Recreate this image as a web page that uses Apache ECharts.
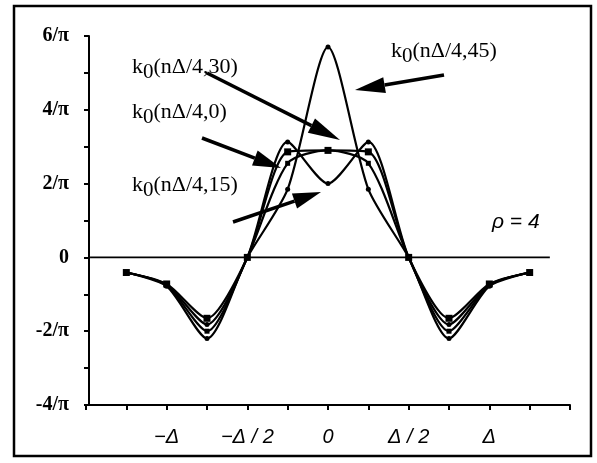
<!DOCTYPE html>
<html><head><meta charset="utf-8">
<script src="https://cdn.jsdelivr.net/npm/echarts@6/dist/echarts.min.js"></script>
<style>html,body{margin:0;padding:0;background:#fff}#c{width:597px;height:463px}</style>
</head><body><div id="c"></div>
<script>
const nValues = [-5,-4,-3,-2,-1,0,1,2,3,4,5];
const k0_theta0  = [-0.41,-0.72,-1.65,0,2.86,2.9,2.86,0,-1.65,-0.72,-0.41];
const k0_theta15 = [-0.41,-0.74,-1.82,0,3.13,2.0,3.13,0,-1.82,-0.74,-0.41];
const k0_theta30 = [-0.41,-0.76,-2.0,0,2.55,2.9,2.55,0,-2.0,-0.76,-0.41];
const k0_theta45 = [-0.41,-0.78,-2.2,0,1.85,5.7,1.85,0,-2.2,-0.78,-0.41];
const xTickLabels = {'-4':'\u2212\u0394','-2':'\u2212\u0394 / 2','0':'0','2':'\u0394 / 2','4':'\u0394'};
const yTickLabels = {'-4':'-4/\u03c0','-2':'-2/\u03c0','0':'0','2':'2/\u03c0','4':'4/\u03c0','6':'6/\u03c0'};
const zeroLine = [[-5.9,0],[5.5,0]];

const chart = echarts.init(document.getElementById('c'));
function pts(vals){ return nValues.map((n,i)=>[n,vals[i]]); }
function mkSeries(vals, sym, size){
  return {type:'line', data:pts(vals), smooth:0.25, symbol:sym, symbolSize:size,
    lineStyle:{color:'#000',width:2.2}, itemStyle:{color:'#000'}, z:3, animation:false};
}
function arrow(x1,y1,x2,y2,hl,hw){
  const dx=x2-x1, dy=y2-y1, L=Math.hypot(dx,dy), ux=dx/L, uy=dy/L;
  const bx=x2-ux*hl, by=y2-uy*hl, px=-uy*hw/2, py=ux*hw/2;
  return [
    {type:'line', shape:{x1:x1,y1:y1,x2:bx,y2:by}, style:{stroke:'#000',lineWidth:3.5}, z:10},
    {type:'polygon', shape:{points:[[x2,y2],[bx+px,by+py],[bx-px,by-py]]}, style:{fill:'#000'}, z:10}
  ];
}
const rich = {
  a:{fontSize:22, fontFamily:'Liberation Serif', verticalAlign:'top', fill:'#000'},
  s:{fontSize:21, fontFamily:'Liberation Serif', verticalAlign:'top', padding:[6,0,0,0], fill:'#000'}
};
function klabel(x,y,arg){
  return {type:'text', x:x, y:y, z:10, style:{text:'{a|k}{s|0}{a|(n\u0394/4,'+arg+')}', rich:rich, fill:'#000'}};
}
const graphics = [
  {type:'rect', shape:{x:14,y:6,width:577,height:450}, style:{fill:'none',stroke:'#000',lineWidth:2.5}, z:0},
  klabel(132,56,'30'), klabel(132,101,'0'), klabel(132,174,'15'), klabel(391,40,'45'),
  {type:'text', x:492, y:212, z:10, style:{text:'\u03c1 = 4', font:'italic 21px "Liberation Sans"', fill:'#000'}},
  ...arrow(207,73,340,140,32,16),
  ...arrow(202,138,281,168,28,16),
  ...arrow(233,222,321,192,28,16),
  ...arrow(444,75,355,90,30,16)
];

chart.setOption({
  animation:false,
  backgroundColor:'#fff',
  grid:{left:86,right:27,top:36,bottom:58},
  xAxis:{type:'value', min:-6, max:6, interval:1,
    axisLine:{onZero:false, lineStyle:{color:'#000',width:2}},
    axisTick:{length:5, lineStyle:{color:'#000',width:2}},
    splitLine:{show:false},
    axisLabel:{margin:22, color:'#000', fontSize:20, fontStyle:'italic', fontFamily:'Liberation Sans',
      formatter:v=> (xTickLabels[String(v)] !== undefined ? xTickLabels[String(v)] : ''), showMinLabel:true, showMaxLabel:true}},
  yAxis:{type:'value', min:-4, max:6, interval:2, offset:-3,
    axisLine:{show:true, onZero:false, lineStyle:{color:'#000',width:2}},
    axisTick:{show:true, length:5, lineStyle:{color:'#000',width:2}},
    minorTick:{show:true, splitNumber:2, length:5, lineStyle:{color:'#000',width:2}},
    splitLine:{show:false},
    axisLabel:{margin:20, color:'#000', fontSize:20, fontWeight:'bold', fontFamily:'Liberation Serif',
      padding:[0,0,8,0], formatter:v=>yTickLabels[String(v)]||''}},
  series:[
    {type:'line', data:zeroLine, symbol:'none', lineStyle:{color:'#000',width:1.8}, z:2, silent:true},
    mkSeries(k0_theta0,'rect',7),
    mkSeries(k0_theta15,'circle',5),
    mkSeries(k0_theta30,'rect',5),
    mkSeries(k0_theta45,'circle',5)
  ],
  graphic:graphics
});
</script></body></html>
